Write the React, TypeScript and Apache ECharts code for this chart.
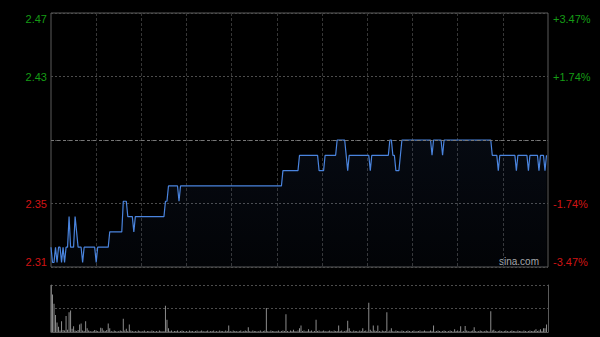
import React, { useEffect, useRef } from 'react';
import * as echarts from 'echarts';

const prevClose = 2.39;
const rangePct = 3.47;
const leftTickLabels = ['2.31', '2.35', '', '2.43', '2.47'];
const rightTickLabels = ['-3.47%', '-1.74%', '', '+1.74%', '+3.47%'];
const tickTone = ['r', 'r', '', 'g', 'g'];

function hhmm(m: number): string {
  const h = Math.floor(m / 60);
  const mm = m % 60;
  return (h < 10 ? '0' : '') + h + ':' + (mm < 10 ? '0' : '') + mm;
}
const times: string[] = [];
for (let m = 9 * 60 + 30; m <= 12 * 60; m++) times.push(hhmm(m));
for (let m = 13 * 60 + 1; m <= 16 * 60; m++) times.push(hhmm(m));

const prices = [
  2.32, 2.31, 2.31, 2.32, 2.31, 2.32, 2.32, 2.31, 2.32, 2.31,
  2.32, 2.32, 2.34, 2.32, 2.32, 2.32, 2.34, 2.33, 2.32, 2.32,
  2.32, 2.31, 2.32, 2.32, 2.32, 2.32, 2.32, 2.32, 2.32, 2.32,
  2.31, 2.32, 2.32, 2.32, 2.32, 2.32, 2.32, 2.32, 2.32, 2.33,
  2.33, 2.33, 2.33, 2.33, 2.33, 2.33, 2.33, 2.33, 2.35, 2.35,
  2.35, 2.34, 2.34, 2.34, 2.34, 2.33, 2.34, 2.34, 2.34, 2.34,
  2.34, 2.34, 2.34, 2.34, 2.34, 2.34, 2.34, 2.34, 2.34, 2.34,
  2.34, 2.34, 2.34, 2.34, 2.34, 2.34, 2.35, 2.35, 2.36, 2.36,
  2.36, 2.36, 2.36, 2.36, 2.36, 2.35, 2.36, 2.36, 2.36, 2.36,
  2.36, 2.36, 2.36, 2.36, 2.36, 2.36, 2.36, 2.36, 2.36, 2.36,
  2.36, 2.36, 2.36, 2.36, 2.36, 2.36, 2.36, 2.36, 2.36, 2.36,
  2.36, 2.36, 2.36, 2.36, 2.36, 2.36, 2.36, 2.36, 2.36, 2.36,
  2.36, 2.36, 2.36, 2.36, 2.36, 2.36, 2.36, 2.36, 2.36, 2.36,
  2.36, 2.36, 2.36, 2.36, 2.36, 2.36, 2.36, 2.36, 2.36, 2.36,
  2.36, 2.36, 2.36, 2.36, 2.36, 2.36, 2.36, 2.36, 2.36, 2.36,
  2.36, 2.36, 2.36, 2.36, 2.37, 2.37, 2.37, 2.37, 2.37, 2.37,
  2.37, 2.37, 2.37, 2.37, 2.37, 2.38, 2.38, 2.38, 2.38, 2.38,
  2.38, 2.38, 2.38, 2.38, 2.38, 2.38, 2.38, 2.38, 2.37, 2.37,
  2.37, 2.37, 2.38, 2.38, 2.38, 2.38, 2.38, 2.38, 2.38, 2.38,
  2.39, 2.39, 2.39, 2.39, 2.39, 2.39, 2.38, 2.37, 2.38, 2.38,
  2.38, 2.38, 2.38, 2.38, 2.38, 2.38, 2.38, 2.38, 2.38, 2.38,
  2.38, 2.38, 2.37, 2.38, 2.38, 2.38, 2.38, 2.38, 2.38, 2.38,
  2.38, 2.38, 2.38, 2.38, 2.38, 2.39, 2.39, 2.38, 2.38, 2.37,
  2.37, 2.37, 2.38, 2.39, 2.39, 2.39, 2.39, 2.39, 2.39, 2.39,
  2.39, 2.39, 2.39, 2.39, 2.39, 2.39, 2.39, 2.39, 2.39, 2.39,
  2.39, 2.39, 2.39, 2.38, 2.39, 2.39, 2.39, 2.39, 2.39, 2.39,
  2.38, 2.39, 2.39, 2.39, 2.39, 2.39, 2.39, 2.39, 2.39, 2.39,
  2.39, 2.39, 2.39, 2.39, 2.39, 2.39, 2.39, 2.39, 2.39, 2.39,
  2.39, 2.39, 2.39, 2.39, 2.39, 2.39, 2.39, 2.39, 2.39, 2.39,
  2.39, 2.39, 2.39, 2.38, 2.38, 2.38, 2.38, 2.37, 2.38, 2.38,
  2.38, 2.38, 2.38, 2.38, 2.38, 2.38, 2.38, 2.38, 2.38, 2.37,
  2.38, 2.38, 2.38, 2.38, 2.38, 2.38, 2.38, 2.37, 2.38, 2.38,
  2.38, 2.38, 2.38, 2.38, 2.37, 2.38, 2.38, 2.38, 2.37, 2.38,
];

const volumes = [
  100, 80, 60, 36, 20, 11, 3, 23, 4, 3,
  34, 5, 42, 46, 7, 12, 3, 2, 4, 16,
  18, 3, 2, 23, 8, 3, 2, 1, 2, 4,
  3, 2, 1, 9, 8, 3, 2, 4, 18, 8,
  2, 1, 3, 2, 1, 2, 3, 2, 28, 3,
  7, 2, 16, 3, 2, 1, 2, 1, 3, 2,
  1, 2, 3, 1, 2, 2, 1, 3, 2, 1,
  2, 1, 3, 2, 1, 2, 56, 26, 8, 2,
  3, 1, 2, 2, 3, 1, 2, 3, 2, 1,
  2, 1, 3, 2, 2, 1, 2, 3, 1, 2,
  3, 2, 1, 2, 3, 1, 2, 2, 3, 1,
  2, 1, 3, 2, 2, 1, 3, 2, 14, 2,
  1, 3, 2, 2, 1, 2, 3, 1, 2, 3,
  2, 10, 2, 1, 3, 2, 2, 1, 2, 3,
  1, 2, 3, 51, 2, 1, 3, 2, 2, 1,
  2, 3, 1, 2, 3, 2, 38, 2, 1, 3,
  2, 5, 2, 1, 3, 8, 14, 2, 3, 1,
  2, 6, 2, 3, 1, 2, 26, 2, 3, 1,
  2, 3, 2, 1, 2, 3, 2, 1, 3, 2,
  2, 14, 2, 3, 1, 2, 3, 24, 8, 2,
  1, 3, 2, 2, 1, 3, 2, 8, 2, 3,
  1, 62, 5, 2, 14, 3, 2, 14, 2, 1,
  3, 2, 2, 42, 1, 3, 8, 2, 1, 3,
  2, 2, 1, 3, 2, 1, 2, 3, 2, 1,
  2, 3, 1, 2, 2, 3, 1, 2, 3, 2,
  1, 2, 3, 2, 14, 1, 2, 3, 2, 1,
  2, 3, 2, 1, 2, 3, 2, 1, 6, 2,
  3, 2, 12, 1, 2, 13, 3, 2, 1, 2,
  3, 10, 2, 1, 2, 3, 2, 1, 2, 3,
  2, 1, 44, 3, 5, 2, 1, 2, 3, 2,
  1, 2, 3, 2, 1, 2, 3, 2, 2, 1,
  3, 2, 2, 1, 3, 2, 1, 2, 3, 2,
  2, 3, 6, 2, 3, 6, 2, 8, 8, 16,
];
const volumeMax = 100;

const FONT = 'Arial, "Liberation Sans", sans-serif';
const GREEN = '#159c15';
const RED = '#d01414';
const BORDER = '#5a5a5a';

function tickIndex(v: number): number {
  return Math.round(v / (rangePct / 2)) + 2;
}

export default function App() {
  const ref = useRef<HTMLDivElement>(null);
  useEffect(() => {
    if (!ref.current) return;
    const chart = echarts.init(ref.current, null, { renderer: 'svg' });
    const rich = {
      g: { color: GREEN, fontSize: 11, fontFamily: FONT },
      r: { color: RED, fontSize: 11, fontFamily: FONT },
    };
    const labelFmt = (labels: string[]) => (v: number) => {
      const i = tickIndex(v);
      const t = labels[i];
      if (!t) return '';
      return '{' + tickTone[i] + '|' + t + '}';
    };
    chart.setOption({
      animation: false,
      backgroundColor: '#000',
      grid: [
        { left: 51, right: 52, top: 13, height: 254, show: true, borderColor: BORDER, borderWidth: 1, backgroundColor: 'transparent' },
        { left: 51, right: 52, top: 285, height: 47, show: false },
      ],
      xAxis: [
        {
          type: 'category', gridIndex: 0, data: times, boundaryGap: false,
          axisLine: { show: false }, axisTick: { show: false }, axisLabel: { show: false },
          splitLine: {
            show: true,
            interval: (i: number) => i % 30 === 0 && i > 0 && i < times.length - 1,
            lineStyle: { color: '#363636', type: [3, 2], width: 1 },
          },
        },
        {
          type: 'category', gridIndex: 1, data: times, boundaryGap: false,
          axisLine: { show: true, lineStyle: { color: BORDER } }, axisTick: { show: false },
          axisLabel: { show: false }, splitLine: { show: false },
        },
      ],
      yAxis: [
        {
          type: 'value', gridIndex: 0, show: false,
          min: prevClose * (1 - rangePct / 100), max: prevClose * (1 + rangePct / 100),
        },
        {
          type: 'value', gridIndex: 0, position: 'left', min: -rangePct, max: rangePct, interval: rangePct / 2,
          axisLine: { show: false }, axisTick: { show: false },
          splitLine: { show: true, lineStyle: { color: '#4c4c4c', type: [2, 2], width: 1 } },
          axisLabel: {
            margin: 4, formatter: labelFmt(leftTickLabels), rich,
            verticalAlignMaxLabel: 'top', verticalAlignMinLabel: 'bottom',
          },
        },
        {
          type: 'value', gridIndex: 0, position: 'right', min: -rangePct, max: rangePct, interval: rangePct / 2,
          axisLine: { show: false }, axisTick: { show: false }, splitLine: { show: false },
          axisLabel: {
            margin: 5, formatter: labelFmt(rightTickLabels), rich,
            verticalAlignMaxLabel: 'top', verticalAlignMinLabel: 'bottom',
          },
        },
        {
          type: 'value', gridIndex: 1, min: 0, max: volumeMax, interval: volumeMax / 2,
          axisLine: { show: true, lineStyle: { color: BORDER } }, axisTick: { show: false },
          axisLabel: { show: false },
          splitLine: { show: true, lineStyle: { color: '#4c4c4c', type: [2, 2], width: 1 } },
        },
        {
          type: 'value', gridIndex: 1, position: 'right', min: 0, max: volumeMax,
          axisLine: { show: true, lineStyle: { color: BORDER } }, axisTick: { show: false },
          axisLabel: { show: false }, splitLine: { show: false },
        },
      ],
      series: [
        {
          type: 'line', xAxisIndex: 0, yAxisIndex: 0, data: prices, symbol: 'none',
          lineStyle: { color: '#4a84de', width: 1.2 },
          areaStyle: {
            origin: 'start',
            color: new echarts.graphic.LinearGradient(0, 0, 0, 1, [
              { offset: 0, color: 'rgba(60,100,180,0.14)' },
              { offset: 1, color: 'rgba(60,100,180,0.05)' },
            ]),
          },
          markLine: {
            silent: true, symbol: ['none', 'none'], label: { show: false },
            lineStyle: { color: '#777', type: [3, 3], width: 1 },
            data: [{ yAxis: prevClose }],
          },
        },
        {
          type: 'bar', xAxisIndex: 1, yAxisIndex: 3, data: volumes, barWidth: 1,
          itemStyle: { color: '#8c8c8c' },
        },
      ],
      graphic: [
        {
          type: 'text', left: 499, top: 256,
          style: { text: 'sina.com', fill: '#aaaaaa', font: '10px ' + FONT },
        },
      ],
    });
    return () => chart.dispose();
  }, []);
  return (
    <div
      ref={ref}
      style={{ position: 'fixed', left: 0, top: 0, width: 600, height: 337, background: '#000' }}
    />
  );
}
